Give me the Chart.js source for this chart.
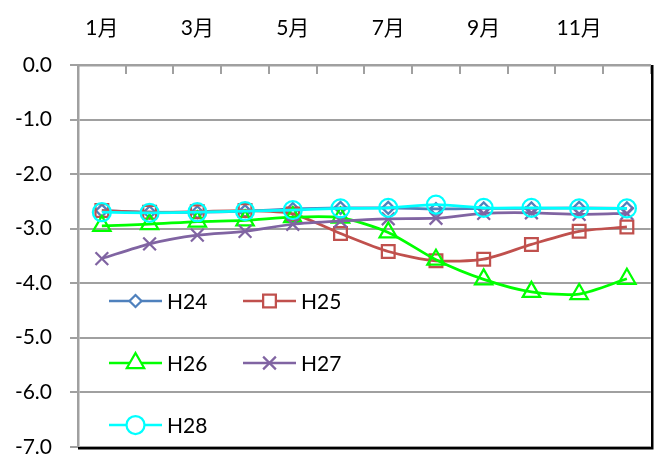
<!DOCTYPE html>
<html>
<head>
<meta charset="utf-8">
<script src="https://cdn.jsdelivr.net/npm/chart.js@4/dist/chart.umd.min.js"></script>
<style>
  html, body { margin: 0; padding: 0; background: #fff; }
  #wrap { width: 663px; height: 459px; }
</style>
</head>
<body>
<div id="wrap"><canvas id="chart" width="663" height="459"></canvas></div>
<script>
const months = ['1月', '2月', '3月', '4月', '5月', '6月', '7月', '8月', '9月', '10月', '11月', '12月'];
const seriesNames = ['H24', 'H25', 'H26', 'H27', 'H28'];
const h24 = [-2.67, -2.70, -2.70, -2.68, -2.64, -2.62, -2.62, -2.64, -2.63, -2.63, -2.62, -2.63];
const h25 = [-2.67, -2.70, -2.69, -2.67, -2.73, -3.09, -3.42, -3.59, -3.56, -3.29, -3.05, -2.97];
const h26 = [-2.95, -2.92, -2.87, -2.85, -2.79, -2.80, -3.07, -3.57, -3.93, -4.16, -4.20, -3.92];
const h27 = [-3.55, -3.28, -3.12, -3.05, -2.92, -2.86, -2.82, -2.81, -2.72, -2.71, -2.74, -2.72];
const h28 = [-2.70, -2.71, -2.70, -2.68, -2.66, -2.63, -2.62, -2.56, -2.62, -2.62, -2.63, -2.63];
const yTicks = [0, -1, -2, -3, -4, -5, -6, -7];

const FONT = "Lato, 'Noto Sans CJK JP', sans-serif";
const GRID = '#a0a0a0';

// colours / markers per series (same order as seriesNames)
const colors = ['#4f81bd', '#c0504d', '#00ff00', '#8064a2', '#00ffff'];
const markers = ['rectRot', 'rect', 'triangle', 'crossRot', 'circle'];
const markerSize = [6, 9, 10, 9, 9];
const values = [h24, h25, h26, h27, h28];

const datasets = seriesNames.map((name, i) => ({
    label: name,
    data: values[i],
    borderColor: colors[i],
    backgroundColor: 'rgba(0,0,0,0)',
    borderWidth: 2.75,
    pointStyle: markers[i],
    pointRadius: markerSize[i],
    pointBorderWidth: 2.25,
    pointBackgroundColor: 'rgba(0,0,0,0)',
    pointBorderColor: colors[i],
    tension: 0.25,
    order: seriesNames.length - i
}));

// tick marks hanging down from the top axis + black frame on right/bottom
const framePlugin = {
    id: 'frame',
    afterDatasetsDraw(chart) {
        const ctx = chart.ctx;
        const a = chart.chartArea;
        const xs = chart.scales.x;
        ctx.save();
        ctx.strokeStyle = GRID;
        ctx.lineWidth = 2;
        const step = xs.getPixelForValue(1) - xs.getPixelForValue(0);
        for (let i = 0; i <= months.length; i++) {
            const x = Math.round(a.left + i * step);
            ctx.beginPath();
            ctx.moveTo(x, a.top);
            ctx.lineTo(x, a.top + 9);
            ctx.stroke();
        }
        ctx.strokeStyle = '#000';
        ctx.lineWidth = 2.5;
        ctx.beginPath();
        ctx.moveTo(a.right + 1.5, a.top);
        ctx.lineTo(a.right + 1.5, a.bottom + 1.5);
        ctx.lineTo(a.left, a.bottom + 1.5);
        ctx.stroke();
        ctx.restore();
    }
};

// legend drawn inside the plot area, two columns
const legendPlugin = {
    id: 'innerLegend',
    afterDraw(chart) {
        const ctx = chart.ctx;
        const rows = [301, 363, 425];
        const cols = [109, 243];
        ctx.save();
        ctx.font = '21px ' + FONT;
        ctx.textBaseline = 'middle';
        ctx.textAlign = 'left';
        seriesNames.forEach((name, i) => {
            const x = cols[i % 2];
            const y = rows[Math.floor(i / 2)];
            ctx.strokeStyle = colors[i];
            ctx.lineWidth = 2.5;
            ctx.beginPath();
            ctx.moveTo(x, y);
            ctx.lineTo(x + 53, y);
            ctx.stroke();
            ctx.fillStyle = '#fff';
            ctx.lineWidth = 2.25;
            Chart.helpers.drawPoint(ctx, {
                pointStyle: markers[i],
                radius: markerSize[i],
                rotation: 0,
                borderWidth: 2.25
            }, x + 26.5, y);
            ctx.fillStyle = '#000';
            ctx.fillText(name, x + 58, y + 1);
        });
        ctx.restore();
    }
};

new Chart(document.getElementById('chart'), {
    type: 'line',
    data: { labels: months, datasets: datasets },
    options: {
        responsive: false,
        animation: false,
        devicePixelRatio: 1,
        layout: { padding: { left: 0, top: 0, right: 10, bottom: 12 } },
        plugins: { legend: { display: false }, tooltip: { enabled: false } },
        scales: {
            x: {
                type: 'category',
                position: 'top',
                offset: true,
                grid: { display: false, drawTicks: false },
                border: { display: true, color: GRID, width: 2.5 },
                ticks: {
                    autoSkip: false,
                    maxRotation: 0,
                    padding: 24,
                    color: '#000',
                    font: { family: FONT, size: 21 },
                    callback: (v, i) => (i % 2 === 0 ? months[i] : '')
                },
                afterFit(scale) { scale.height = 65; }
            },
            y: {
                min: yTicks[yTicks.length - 1],
                max: yTicks[0],
                afterBuildTicks(scale) { scale.ticks = yTicks.map(v => ({ value: v })); },
                grid: { color: GRID, lineWidth: 2, tickLength: 8, drawTicks: true },
                border: { display: true, color: GRID, width: 2.5 },
                ticks: {
                    padding: 18,
                    color: '#000',
                    font: { family: FONT, size: 21 },
                    callback: v => Number(v).toFixed(1)
                },
                afterFit(scale) {
                    scale.width = 78;
                    scale.paddingTop = 0;
                    scale.paddingBottom = 0;
                }
            }
        }
    },
    plugins: [framePlugin, legendPlugin]
});
</script>
</body>
</html>
